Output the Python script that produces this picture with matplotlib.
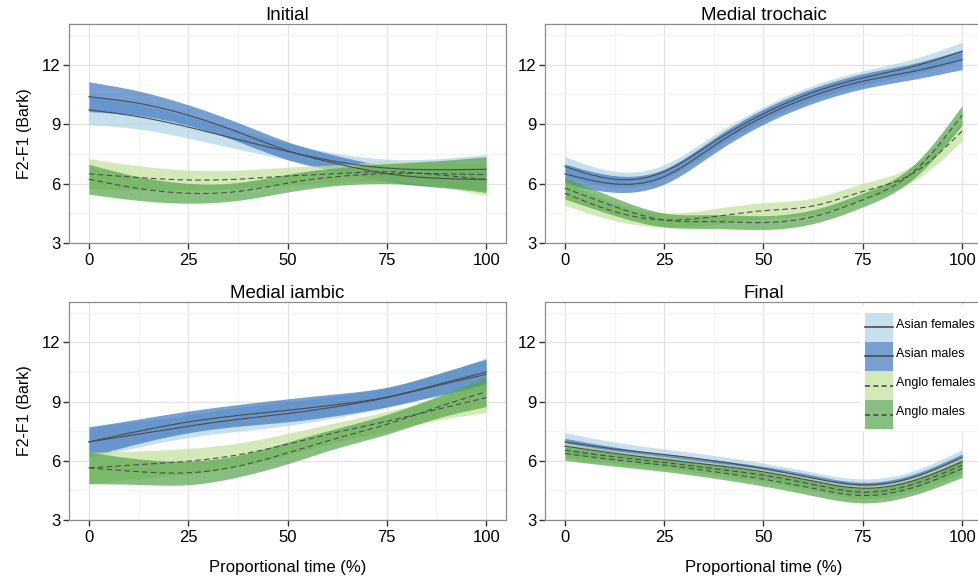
import numpy as np
import matplotlib.pyplot as plt
from matplotlib.patches import Rectangle
from matplotlib.lines import Line2D

plt.rcParams['font.family'] = ['Liberation Sans', 'DejaVu Sans']

# proportional time points (%)
time_pct = [0, 12.5, 25, 37.5, 50, 62.5, 75, 87.5, 100]

groups = ['Asian females', 'Asian males', 'Anglo females', 'Anglo males']
panel_titles = ['Initial', 'Medial trochaic', 'Medial iambic', 'Final']

# Initial: means and half-width of the confidence bands
init_af = [9.72, 9.37, 8.85, 8.22, 7.62, 7.1, 6.78, 6.7, 6.72]
init_af_ci = [0.75, 0.62, 0.56, 0.48, 0.42, 0.42, 0.45, 0.55, 0.75]
init_am = [10.38, 10.05, 9.45, 8.6, 7.66, 7.0, 6.5, 6.27, 6.2]
init_am_ci = [0.75, 0.62, 0.52, 0.48, 0.45, 0.4, 0.4, 0.45, 0.55]
init_nf = [6.49, 6.3, 6.18, 6.22, 6.38, 6.5, 6.6, 6.45, 6.2]
init_nf_ci = [0.77, 0.6, 0.5, 0.45, 0.45, 0.45, 0.5, 0.6, 0.8]
init_nm = [6.22, 5.75, 5.51, 5.6, 6.02, 6.35, 6.5, 6.5, 6.45]
init_nm_ci = [0.75, 0.6, 0.5, 0.45, 0.45, 0.45, 0.5, 0.65, 0.9]

# Medial trochaic
troc_af = [6.86, 6.22, 6.6, 8.1, 9.52, 10.6, 11.33, 11.9, 12.67]
troc_af_ci = [0.5, 0.4, 0.35, 0.35, 0.35, 0.35, 0.35, 0.38, 0.46]
troc_am = [6.49, 5.98, 6.35, 7.9, 9.37, 10.43, 11.16, 11.65, 12.25]
troc_am_ci = [0.5, 0.42, 0.38, 0.38, 0.38, 0.38, 0.38, 0.4, 0.5]
troc_nf = [5.51, 4.58, 4.16, 4.33, 4.63, 4.87, 5.6, 6.5, 8.65]
troc_nf_ci = [0.6, 0.45, 0.35, 0.4, 0.4, 0.4, 0.4, 0.4, 0.5]
troc_nm = [5.77, 4.84, 4.16, 4.08, 4.03, 4.33, 5.17, 6.55, 9.45]
troc_nm_ci = [0.55, 0.45, 0.35, 0.35, 0.35, 0.35, 0.35, 0.35, 0.5]

# Medial iambic
iamb_af = [6.96, 7.35, 7.75, 8.1, 8.39, 8.75, 9.2, 9.8, 10.38]
iamb_af_ci = [0.8, 0.65, 0.57, 0.6, 0.6, 0.55, 0.5, 0.55, 0.85]
iamb_am = [6.96, 7.5, 7.97, 8.3, 8.56, 8.85, 9.23, 9.85, 10.5]
iamb_am_ci = [0.75, 0.62, 0.55, 0.55, 0.58, 0.55, 0.5, 0.55, 0.65]
iamb_nf = [5.64, 5.8, 5.98, 6.3, 6.84, 7.45, 8.0, 8.6, 9.2]
iamb_nf_ci = [0.8, 0.7, 0.65, 0.6, 0.55, 0.5, 0.5, 0.55, 0.75]
iamb_nm = [5.64, 5.45, 5.39, 5.73, 6.4, 7.15, 7.85, 8.7, 9.5]
iamb_nm_ci = [0.8, 0.65, 0.6, 0.55, 0.55, 0.5, 0.5, 0.55, 0.75]

# Final
fin_af = [6.96, 6.6, 6.32, 6.0, 5.6, 5.12, 4.78, 5.15, 6.17]
fin_af_ci = [0.47, 0.35, 0.28, 0.27, 0.28, 0.3, 0.3, 0.33, 0.4]
fin_am = [6.74, 6.38, 6.07, 5.78, 5.44, 4.97, 4.61, 4.98, 5.95]
fin_am_ci = [0.4, 0.32, 0.28, 0.27, 0.28, 0.3, 0.3, 0.33, 0.4]
fin_nf = [6.54, 6.2, 5.92, 5.6, 5.27, 4.8, 4.41, 4.8, 5.78]
fin_nf_ci = [0.38, 0.32, 0.3, 0.3, 0.32, 0.33, 0.33, 0.35, 0.42]
fin_nm = [6.37, 6.05, 5.78, 5.45, 5.07, 4.6, 4.24, 4.63, 5.61]
fin_nm_ci = [0.35, 0.32, 0.32, 0.33, 0.35, 0.37, 0.37, 0.38, 0.45]

panel_data = [
    [(init_af, init_af_ci), (init_am, init_am_ci), (init_nf, init_nf_ci), (init_nm, init_nm_ci)],
    [(troc_af, troc_af_ci), (troc_am, troc_am_ci), (troc_nf, troc_nf_ci), (troc_nm, troc_nm_ci)],
    [(iamb_af, iamb_af_ci), (iamb_am, iamb_am_ci), (iamb_nf, iamb_nf_ci), (iamb_nm, iamb_nm_ci)],
    [(fin_af, fin_af_ci), (fin_am, fin_am_ci), (fin_nf, fin_nf_ci), (fin_nm, fin_nm_ci)],
]

fill_colors = ['#b0d3e7', '#3d77be', '#c3e19a', '#55a54a']
line_styles = ['-', '-', '--', '--']
line_color = '#4d4d4d'


# natural cubic spline, only used to draw smooth curves through the points
def smooth(x, y, n=200):
    x = np.asarray(x, float)
    y = np.asarray(y, float)
    k = len(x)
    h = np.diff(x)
    A = np.zeros((k, k))
    b = np.zeros(k)
    A[0, 0] = A[-1, -1] = 1
    for i in range(1, k - 1):
        A[i, i - 1] = h[i - 1]
        A[i, i] = 2 * (h[i - 1] + h[i])
        A[i, i + 1] = h[i]
        b[i] = 6 * ((y[i + 1] - y[i]) / h[i] - (y[i] - y[i - 1]) / h[i - 1])
    m = np.linalg.solve(A, b)
    xs = np.linspace(x[0], x[-1], n)
    idx = np.clip(np.searchsorted(x, xs) - 1, 0, k - 2)
    t0 = x[idx + 1] - xs
    t1 = xs - x[idx]
    hi = h[idx]
    ys = (m[idx] * t0 ** 3 + m[idx + 1] * t1 ** 3) / (6 * hi) \
        + (y[idx] / hi - m[idx] * hi / 6) * t0 \
        + (y[idx + 1] / hi - m[idx + 1] * hi / 6) * t1
    return xs, ys


# legend key: filled square with the group's line across the middle
class Key:
    def __init__(self, color, ls):
        self.color = color
        self.ls = ls


class KeyHandler:
    def legend_artist(self, legend, orig_handle, fontsize, handlebox):
        x0, y0 = handlebox.xdescent, handlebox.ydescent
        w, h = handlebox.width, handlebox.height
        shift = 0.25 * fontsize
        rect = Rectangle((-x0, -y0 - shift), w, h, facecolor=orig_handle.color,
                         alpha=0.7, lw=0, transform=handlebox.get_transform())
        mid = -y0 - shift + h / 2
        line = Line2D([-x0, -x0 + w], [mid, mid], color=line_color, lw=1.2,
                      ls=orig_handle.ls,
                      dashes=(3, 2) if orig_handle.ls == '--' else (None, None),
                      transform=handlebox.get_transform())
        handlebox.add_artist(rect)
        handlebox.add_artist(line)
        return rect


W, H = 979, 577
fig = plt.figure(figsize=(W / 100, H / 100), dpi=100)

# panel boxes in pixels: left, top, right, bottom
boxes = [(69, 24, 506, 243), (545, 24, 982, 243),
         (69, 302, 506, 520), (545, 302, 982, 520)]

axes = []
for p, (l, t, r, btm) in enumerate(boxes):
    ax = fig.add_axes([l / W, (H - btm) / H, (r - l) / W, (btm - t) / H])
    axes.append(ax)

    for g in range(4):
        mean, ci = panel_data[p][g]
        xs, lo = smooth(time_pct, np.array(mean) - np.array(ci))
        _, hi = smooth(time_pct, np.array(mean) + np.array(ci))
        ax.fill_between(xs, lo, hi, color=fill_colors[g], alpha=0.7, lw=0, zorder=2)
    for g in range(4):
        mean, ci = panel_data[p][g]
        xs, ys = smooth(time_pct, mean)
        ax.plot(xs, ys, color=line_color, lw=0.8, ls=line_styles[g],
                dashes=(5, 3) if g >= 2 else (None, None), zorder=3)

    ax.set_xlim(-5, 105)
    ax.set_ylim(3, 14.05)
    ax.set_xticks([0, 25, 50, 75, 100])
    ax.set_xticks([12.5, 37.5, 62.5, 87.5], minor=True)
    ax.set_yticks([3, 6, 9, 12])
    ax.set_yticks([4.5, 7.5, 10.5, 13.5], minor=True)
    ax.grid(which='major', color='#e3e3e3', lw=0.9, zorder=0)
    ax.grid(which='minor', color='#f4f4f4', lw=0.9, zorder=0)
    ax.set_axisbelow(True)
    ax.tick_params(which='major', length=4, width=1, color='#333333',
                   labelsize=12, labelcolor='black', pad=2)
    ax.tick_params(axis='x', which='major', pad=3)
    ax.tick_params(which='minor', length=0)
    for s in ax.spines.values():
        s.set_color('#8c8c8c')
        s.set_linewidth(0.9)
    ax.set_title(panel_titles[p], fontsize=13.5, pad=3)

axes[0].set_ylabel('F2-F1 (Bark)', fontsize=11.5, labelpad=7)
axes[2].set_ylabel('F2-F1 (Bark)', fontsize=11.5, labelpad=7)
axes[2].set_xlabel('Proportional time (%)', fontsize=12, labelpad=11)
axes[3].set_xlabel('Proportional time (%)', fontsize=12, labelpad=11)

handles = [Key(fill_colors[g], line_styles[g]) for g in range(4)]
leg = fig.legend(handles, groups, loc='upper right', handler_map={Key: KeyHandler()},
                 bbox_to_anchor=(1.0, (H - 306) / H), fontsize=9,
                 frameon=True, fancybox=False, edgecolor='white', facecolor='white',
                 framealpha=1, labelspacing=0, handlelength=2.25, handleheight=3.2,
                 handletextpad=0.25, borderpad=0.3, borderaxespad=0)

fig.savefig('out.png', dpi=100)
